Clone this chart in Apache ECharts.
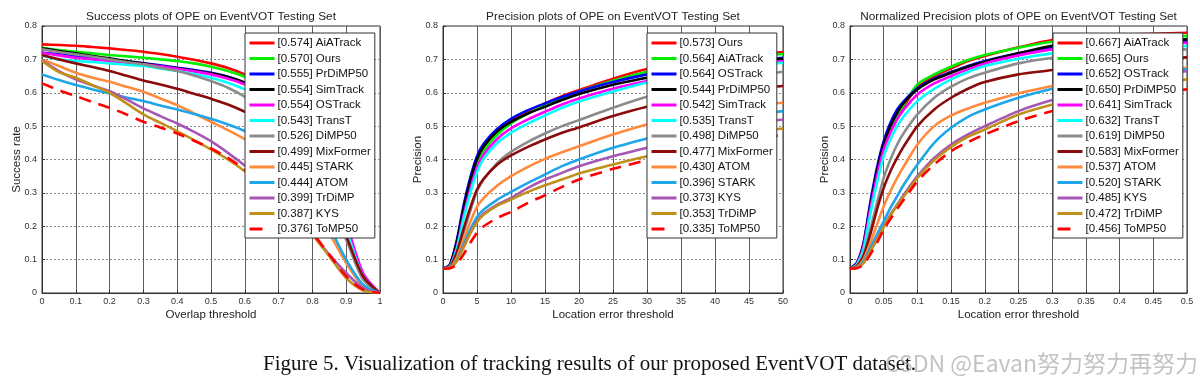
<!DOCTYPE html>
<html><head><meta charset="utf-8">
<script src="https://cdn.jsdelivr.net/npm/echarts@6/dist/echarts.min.js"></script>
<style>html,body{margin:0;padding:0;background:#fff}#c{width:1200px;height:385px}</style>
</head><body><div id="c"></div>
<script>
// ---------- data ----------
const succX = [0,0.05,0.1,0.15,0.2,0.25,0.3,0.35,0.4,0.45,0.5,0.55,0.6,0.65,0.7,0.75,0.8,0.85,0.9,0.95,1];
const succNames = ['AiATrack','Ours','PrDiMP50','SimTrack','OSTrack','TransT','DiMP50','MixFormer','STARK','ATOM','TrDiMP','KYS','ToMP50'];
const succScores = ['0.574','0.570','0.555','0.554','0.554','0.543','0.526','0.499','0.445','0.444','0.399','0.387','0.376'];
const succRates = [
 [0.745,0.743,0.741,0.737,0.733,0.728,0.723,0.716,0.708,0.699,0.688,0.674,0.655,0.630,0.600,0.540,0.470,0.350,0.200,0.050,0],
 [0.735,0.728,0.723,0.718,0.713,0.709,0.705,0.700,0.695,0.688,0.678,0.665,0.648,0.625,0.595,0.550,0.470,0.350,0.200,0.050,0],
 [0.720,0.715,0.710,0.705,0.700,0.694,0.688,0.682,0.675,0.668,0.660,0.648,0.630,0.605,0.570,0.520,0.440,0.320,0.180,0.045,0],
 [0.733,0.725,0.718,0.710,0.703,0.695,0.688,0.680,0.673,0.666,0.658,0.647,0.630,0.605,0.570,0.520,0.440,0.320,0.180,0.045,0],
 [0.720,0.712,0.705,0.700,0.695,0.690,0.685,0.679,0.672,0.664,0.655,0.642,0.625,0.600,0.570,0.525,0.450,0.340,0.210,0.060,0],
 [0.712,0.700,0.695,0.692,0.688,0.684,0.680,0.673,0.665,0.656,0.645,0.630,0.610,0.585,0.550,0.505,0.430,0.320,0.190,0.050,0],
 [0.730,0.722,0.715,0.708,0.700,0.692,0.685,0.675,0.665,0.652,0.635,0.615,0.588,0.555,0.505,0.450,0.370,0.265,0.160,0.040,0],
 [0.713,0.700,0.688,0.677,0.665,0.651,0.637,0.625,0.612,0.597,0.582,0.565,0.543,0.515,0.480,0.435,0.370,0.280,0.170,0.050,0],
 [0.700,0.680,0.660,0.645,0.633,0.618,0.603,0.583,0.563,0.538,0.513,0.488,0.461,0.430,0.390,0.340,0.270,0.180,0.090,0.020,0],
 [0.655,0.638,0.623,0.610,0.598,0.586,0.575,0.562,0.550,0.536,0.522,0.505,0.485,0.455,0.415,0.360,0.290,0.200,0.100,0.025,0],
 [0.697,0.665,0.640,0.622,0.605,0.580,0.553,0.530,0.508,0.483,0.455,0.420,0.382,0.340,0.290,0.235,0.175,0.115,0.060,0.015,0],
 [0.695,0.662,0.645,0.622,0.600,0.568,0.535,0.510,0.485,0.458,0.430,0.400,0.365,0.325,0.280,0.230,0.175,0.110,0.045,0.008,0],
 [0.628,0.608,0.590,0.572,0.555,0.535,0.513,0.496,0.478,0.456,0.433,0.405,0.370,0.330,0.285,0.235,0.180,0.115,0.050,0.010,0]
];

const precX = [0,1,2,3,4,5,6,8,10,12.5,15,17.5,20,25,30,35,40,45,50];
const precNames = ['Ours','AiATrack','OSTrack','PrDiMP50','SimTrack','TransT','DiMP50','MixFormer','ATOM','STARK','KYS','TrDiMP','ToMP50'];
const precScores = ['0.573','0.564','0.564','0.544','0.542','0.535','0.498','0.477','0.430','0.396','0.373','0.353','0.335'];
const precRates = [
 [0.073,0.080,0.140,0.240,0.325,0.390,0.430,0.480,0.513,0.543,0.568,0.590,0.608,0.642,0.671,0.690,0.705,0.715,0.722],
 [0.073,0.082,0.145,0.245,0.330,0.390,0.428,0.475,0.508,0.538,0.563,0.585,0.604,0.636,0.663,0.683,0.698,0.708,0.716],
 [0.073,0.085,0.155,0.260,0.345,0.410,0.448,0.492,0.522,0.548,0.568,0.587,0.604,0.632,0.655,0.673,0.688,0.698,0.705],
 [0.073,0.083,0.150,0.250,0.335,0.400,0.440,0.485,0.513,0.538,0.558,0.578,0.596,0.624,0.645,0.665,0.682,0.695,0.702],
 [0.073,0.080,0.135,0.230,0.310,0.375,0.415,0.462,0.493,0.520,0.543,0.565,0.583,0.612,0.635,0.655,0.672,0.685,0.695],
 [0.073,0.080,0.130,0.220,0.298,0.362,0.403,0.450,0.480,0.508,0.532,0.555,0.574,0.604,0.631,0.652,0.670,0.682,0.690],
 [0.073,0.078,0.115,0.180,0.245,0.305,0.340,0.390,0.423,0.453,0.478,0.500,0.518,0.555,0.588,0.612,0.633,0.650,0.663],
 [0.073,0.079,0.120,0.190,0.255,0.310,0.343,0.385,0.412,0.438,0.460,0.480,0.496,0.530,0.558,0.578,0.595,0.610,0.620],
 [0.073,0.077,0.105,0.160,0.212,0.258,0.285,0.322,0.350,0.378,0.402,0.422,0.440,0.475,0.505,0.528,0.545,0.560,0.570],
 [0.073,0.076,0.098,0.145,0.190,0.228,0.250,0.280,0.303,0.330,0.355,0.380,0.400,0.435,0.463,0.490,0.510,0.530,0.545],
 [0.073,0.075,0.095,0.138,0.180,0.215,0.238,0.265,0.285,0.315,0.340,0.360,0.380,0.410,0.435,0.465,0.490,0.508,0.520],
 [0.073,0.075,0.095,0.135,0.178,0.212,0.235,0.262,0.280,0.303,0.323,0.340,0.358,0.385,0.410,0.437,0.460,0.480,0.493],
 [0.073,0.074,0.085,0.115,0.150,0.180,0.200,0.225,0.243,0.270,0.293,0.318,0.340,0.372,0.398,0.425,0.445,0.462,0.473]
];

const normX = [0,0.01,0.02,0.03,0.04,0.05,0.06,0.07,0.08,0.1,0.125,0.15,0.175,0.2,0.25,0.3,0.35,0.4,0.45,0.5];
const normNames = ['AiATrack','Ours','OSTrack','PrDiMP50','SimTrack','TransT','DiMP50','MixFormer','ATOM','STARK','KYS','TrDiMP','ToMP50'];
const normScores = ['0.667','0.665','0.652','0.650','0.641','0.632','0.619','0.583','0.537','0.520','0.485','0.472','0.456'];
const normRates = [
 [0.073,0.084,0.135,0.245,0.350,0.430,0.485,0.530,0.560,0.618,0.650,0.673,0.695,0.710,0.736,0.758,0.767,0.773,0.777,0.780],
 [0.073,0.085,0.140,0.250,0.355,0.435,0.490,0.535,0.565,0.625,0.655,0.678,0.698,0.713,0.735,0.753,0.760,0.765,0.768,0.770],
 [0.073,0.090,0.150,0.270,0.375,0.455,0.510,0.550,0.575,0.613,0.643,0.662,0.680,0.695,0.718,0.736,0.745,0.750,0.753,0.755],
 [0.073,0.088,0.145,0.260,0.365,0.445,0.500,0.540,0.570,0.610,0.640,0.660,0.678,0.693,0.718,0.741,0.750,0.755,0.758,0.760],
 [0.073,0.086,0.140,0.250,0.350,0.430,0.480,0.520,0.550,0.595,0.628,0.650,0.670,0.688,0.712,0.730,0.739,0.744,0.747,0.750],
 [0.073,0.085,0.130,0.235,0.330,0.410,0.460,0.500,0.530,0.575,0.612,0.640,0.662,0.680,0.702,0.718,0.727,0.733,0.737,0.740],
 [0.073,0.082,0.115,0.190,0.270,0.345,0.400,0.445,0.480,0.535,0.585,0.618,0.643,0.660,0.688,0.705,0.715,0.722,0.727,0.730],
 [0.073,0.080,0.110,0.175,0.250,0.315,0.365,0.405,0.440,0.500,0.550,0.585,0.612,0.632,0.655,0.668,0.685,0.695,0.702,0.706],
 [0.073,0.078,0.100,0.150,0.205,0.260,0.305,0.345,0.380,0.445,0.500,0.532,0.553,0.570,0.598,0.620,0.640,0.655,0.667,0.675],
 [0.073,0.077,0.095,0.135,0.175,0.215,0.255,0.290,0.325,0.385,0.450,0.495,0.528,0.550,0.585,0.612,0.635,0.652,0.663,0.670],
 [0.073,0.076,0.090,0.125,0.160,0.200,0.235,0.265,0.295,0.350,0.405,0.445,0.475,0.500,0.545,0.578,0.605,0.627,0.647,0.665],
 [0.073,0.076,0.090,0.125,0.160,0.197,0.232,0.262,0.290,0.345,0.398,0.438,0.468,0.490,0.535,0.565,0.590,0.610,0.627,0.640],
 [0.073,0.074,0.085,0.115,0.150,0.190,0.222,0.252,0.280,0.335,0.385,0.425,0.452,0.475,0.515,0.545,0.568,0.585,0.600,0.610]
];

const rankColors = ['#ff0000','#00ee00','#0000ff','#000000','#ff00ff','#00ffff','#8c8c8c','#8b0a0a','#ff8a3d','#1ea6e8','#a656b4','#bf901a','#ff0000'];
const titles = ['Success plots of OPE on EventVOT Testing Set','Precision plots of OPE on EventVOT Testing Set','Normalized Precision plots of OPE on EventVOT Testing Set'];
const xNames = ['Overlap threshold','Location error threshold','Location error threshold'];
const yNames = ['Success rate','Precision','Precision'];
const xMax = [1, 50, 0.5];
const xStep = [0.1, 5, 0.05];
const caption = 'Figure 5. Visualization of tracking results of our proposed EventVOT dataset.';
const watermark = 'CSDN @Eavan努力努力再努力';

// ---------- layout ----------
const grids = [
  {left: 42, top: 26, width: 338, height: 267},
  {left: 443, top: 26, width: 340, height: 267},
  {left: 850, top: 26, width: 337, height: 267}
];
const legendPos = [{left: 245, top: 33}, {left: 647, top: 33}, {left: 1053, top: 33}];
const FONT = '"Liberation Sans", Arial, sans-serif';
const fmt = v => String(+(+v).toFixed(2));

const plotX = [succX, precX, normX];
const plotNames = [succNames, precNames, normNames];
const plotScores = [succScores, precScores, normScores];
const plotRates = [succRates, precRates, normRates];
const smoothness = [0.3, 0.25, 0.25];

const option = {
  animation: false,
  backgroundColor: '#fff',
  title: titles.map((t, i) => ({
    text: t, left: grids[i].left + grids[i].width / 2, top: 11, textAlign: 'center', padding: 0,
    textStyle: {fontFamily: FONT, fontSize: 11.8, fontWeight: 'normal', color: '#222'}
  })),
  grid: grids.map(g => Object.assign({show: true, borderColor: '#333', borderWidth: 1, backgroundColor: '#fff', containLabel: false}, g)),
  xAxis: grids.map((g, i) => ({
    type: 'value', gridIndex: i, min: 0, max: xMax[i], interval: xStep[i],
    name: xNames[i], nameLocation: 'middle', nameGap: 16, nameMoveOverlap: false,
    nameTextStyle: {fontFamily: FONT, fontSize: 11.5, color: '#222'},
    axisLine: {show: true, onZero: false, lineStyle: {color: '#333', width: 1}},
    axisTick: {show: true, inside: true, length: 3, lineStyle: {color: '#333'}},
    axisLabel: {fontFamily: FONT, fontSize: 9, color: '#333', margin: 4, formatter: fmt, showMaxLabel: true, showMinLabel: true},
    splitLine: {show: true, lineStyle: {color: '#5e5e5e', width: 1, type: 'solid'}}
  })),
  yAxis: grids.map((g, i) => ({
    type: 'value', gridIndex: i, min: 0, max: 0.8, interval: 0.1,
    name: yNames[i], nameLocation: 'middle', nameGap: 19, nameMoveOverlap: false,
    nameTextStyle: {fontFamily: FONT, fontSize: 11.5, color: '#222'},
    axisLine: {show: true, lineStyle: {color: '#333', width: 1}},
    axisTick: {show: true, inside: true, length: 3, lineStyle: {color: '#333'}},
    axisLabel: {fontFamily: FONT, fontSize: 9, color: '#333', margin: 5, formatter: fmt},
    splitLine: {show: true, lineStyle: {color: '#8a8a8a', width: 1, type: [2, 2]}}
  })),
  legend: grids.map((g, i) => ({
    orient: 'vertical', left: legendPos[i].left, top: legendPos[i].top, z: 50,
    data: plotNames[i].map((n, k) => {
      const item = {name: '[' + plotScores[i][k] + '] ' + n};
      if (k === 12) item.lineStyle = {type: [13, 20]};
      return item;
    }),
    selectedMode: false, itemWidth: 25, itemHeight: 12, itemGap: 3.5,
    itemStyle: {opacity: 0, borderWidth: 0},
    lineStyle: {width: 3},
    padding: [4, 4, 3, 3], backgroundColor: '#fff', borderColor: '#333', borderWidth: 1,
    textStyle: {fontFamily: FONT, fontSize: 11.5, color: '#111', lineHeight: 12, padding: [0, 0, 0, -2]}
  })),
  series: [],
  graphic: [
    {type: 'text', left: 263, top: 354, style: {text: caption, font: '21px "Liberation Serif", "Times New Roman", serif', fill: '#111'}},
    {type: 'text', left: 885, top: 352, z: 100, style: {text: watermark, font: '23px "Noto Sans CJK SC", "Noto Sans", sans-serif', fill: 'rgba(170,170,170,0.7)'}}
  ]
};

for (let p = 0; p < 3; p++) {
  plotNames[p].forEach((n, k) => {
    const dashed = k === 12;
    option.series.push({
      type: 'line', name: '[' + plotScores[p][k] + '] ' + n,
      xAxisIndex: p, yAxisIndex: p,
      data: plotX[p].map((x, j) => [x, plotRates[p][k][j]]),
      showSymbol: false, symbol: 'none', smooth: smoothness[p],
      color: rankColors[k],
      lineStyle: {color: rankColors[k], width: 2.6, type: dashed ? [12, 8] : 'solid'}
    });
  });
}

const chart = echarts.init(document.getElementById('c'), null, {renderer: 'canvas'});
chart.setOption(option);
</script>
</body></html>
